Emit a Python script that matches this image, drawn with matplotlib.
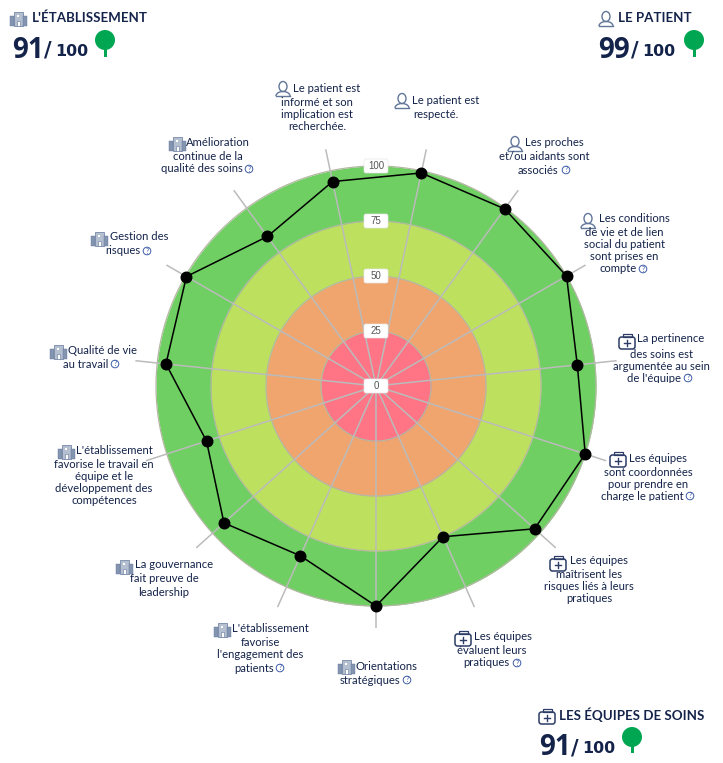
import numpy as np
import matplotlib
matplotlib.use('Agg')
import matplotlib.pyplot as plt
from matplotlib.patches import Circle, Ellipse, FancyBboxPatch, Rectangle, Arc
from matplotlib.transforms import Bbox

# Chart values, clockwise from the first spoke
scores = [99, 99.5, 100, 92, 100, 97, 75, 100, 84.5, 93, 81, 96, 99.5, 84, 95]
levels = [100, 75, 50, 25]
level_colors = ['#6fcf63', '#bde05f', '#f0a56e', '#ff7585']
tick_values = [0, 25, 50, 75, 100]

# Criteria text, one list of lines per spoke
label_lines = [
    ['Le patient est', 'respecté.'],
    ['Les proches', 'et/ou aidants sont', 'associés'],
    ['Les conditions', 'de vie et de lien', 'social du patient', 'sont prises en', 'compte'],
    ['La pertinence', 'des soins est', 'argumentée au sein', 'de l\'équipe'],
    ['Les équipes', 'sont coordonnées', 'pour prendre en', 'charge le patient'],
    ['Les équipes', 'maîtrisent les', 'risques liés à leurs', 'pratiques'],
    ['Les équipes', 'évaluent leurs', 'pratiques'],
    ['Orientations', 'stratégiques'],
    ['L\'établissement', 'favorise', 'l\'engagement des', 'patients'],
    ['La gouvernance', 'fait preuve de', 'leadership'],
    ['L\'établissement', 'favorise le travail en', 'équipe et le', 'développement des', 'compétences'],
    ['Qualité de vie', 'au travail'],
    ['Gestion des', 'risques'],
    ['Amélioration', 'continue de la', 'qualité des soins'],
    ['Le patient est', 'informé et son', 'implication est', 'recherchée.'],
]
label_icons = ['person', 'person', 'person', 'kit', 'kit', 'kit', 'kit', 'building',
               'building', 'building', 'building', 'building', 'building', 'building', 'person']

headers = ["L'ÉTABLISSEMENT", 'LE PATIENT', 'LES ÉQUIPES DE SOINS']
header_scores = ['91', '99', '91']
header_icons = ['building', 'person', 'kit']

# Layout in reference pixels: icon x, y, line centres, line middles, help x, clip y
label_layout = [
    (402, 101, [446, 436], [100, 114], None, None),
    (515, 144, [554, 544, 538], [142, 157, 170], 566, None),
    (588, 221, [634, 624, 624, 624, 618], [219, 233, 245, 257, 269], 643, None),
    (627, 341, [671, 661, 661, 654], [339, 354, 366, 378], 688, 382.5),
    (618, 459, [658, 648, 648, 642], [458, 472, 484, 496], 690, 500.5),
    (558, 563, [599, 589, 589, 589], [561, 575, 587, 599], None, 603.5),
    (463, 638, [503, 492, 486], [637, 651, 663], 517, 667.5),
    (346, 667, [386, 370], [666, 680], 407, None),
    (222, 630, [270, 260, 260, 254], [629, 643, 655, 668], 280, None),
    (124, 567, [174, 164, 164], [565, 579, 592], None, None),
    (66, 452, [114, 104, 104, 104, 104], [450, 464, 476, 489, 501], None, None),
    (58, 352, [102, 86], [350, 364], 115, None),
    (99, 239, [139, 123], [237, 251], 147, None),
    (177, 144, [218, 208, 202], [142, 157, 169], 249, None),
    (283, 89, [327, 317, 317, 317], [88, 102, 114, 126], None, None),
]
header_layout = [
    (18, 32, 18, 12, 41, 105, 40, 57),
    (606, 618, 18, 598, 628, 694, 40, 57),
    (547, 559, 715, 539, 568, 632, 737, 753),
]

NAVY = '#14234a'
ICON = '#62769a'
KIT = '#2c3c66'
W, H = 723, 763
CX, CY, R = 376, 386, 242
RMAX = 110

plt.rcParams['font.family'] = ['Lato', 'DejaVu Sans']

fig = plt.figure(figsize=(W / 100, H / 100), dpi=100)
ax = fig.add_axes([(CX - R) / W, (H - CY - R) / H, 2 * R / W, 2 * R / H], projection='polar')
ax.set_theta_zero_location('N')
ax.set_theta_direction(-1)
ax.set_ylim(0, RMAX)
ax.axis('off')

theta_fine = np.linspace(0, 2 * np.pi, 361)
for lvl, col in zip(levels, level_colors):
    ax.fill_between(theta_fine, 0, lvl, color=col, lw=0, zorder=1)
    ax.plot(theta_fine, np.full_like(theta_fine, lvl), color='#b4b8a4', lw=0.9, zorder=1.5)

n = len(scores)
angles = np.deg2rad(12 + 24 * np.arange(n))
for a in angles:
    ax.plot([a, a], [0, RMAX], color='#bbbbbb', lw=1.1, zorder=2)

ax.plot(np.append(angles, angles[0]), scores + scores[:1], color='black', lw=1.1, zorder=3)
ax.plot(angles, scores, 'o', color='black', ms=7.6, zorder=4)

# Overlay in pixel coordinates for the icons and texts around the radar
ov = fig.add_axes([0, 0, 1, 1], zorder=10)
ov.set_xlim(0, W)
ov.set_ylim(H, 0)
ov.axis('off')

fig.canvas.draw()
for v in tick_values:
    px, py = ov.transData.inverted().transform(ax.transData.transform((0, v)))
    ov.add_patch(FancyBboxPatch((px - 11, py - 6), 22, 12, boxstyle='round,pad=1,rounding_size=2',
                                fc='white', ec='#e6e6e6', lw=0.5))
    ov.text(px, py, str(v), ha='center', va='center', fontsize=7, color='#555555', family='Liberation Sans')


def draw_icon(kind, x, y):
    if kind == 'person':
        ov.add_patch(Ellipse((x, y - 2.5), 8, 10, fc='none', ec=ICON, lw=1))
        ov.add_patch(Arc((x, y + 7), 14, 9, theta1=180, theta2=360, ec=ICON, lw=1))
        ov.plot([x - 7, x + 7], [y + 7, y + 7], color=ICON, lw=1)
    elif kind == 'kit':
        ov.add_patch(FancyBboxPatch((x - 8, y - 4), 16, 12, boxstyle='round,pad=0,rounding_size=2.5',
                                    fc='none', ec=KIT, lw=1.1))
        ov.add_patch(Rectangle((x - 4.5, y - 7.5), 9, 3.5, fc='none', ec=KIT, lw=0.9))
        ov.plot([x - 3, x + 3], [y + 2, y + 2], color=KIT, lw=1)
        ov.plot([x, x], [y - 1, y + 5], color=KIT, lw=1)
    else:
        ov.add_patch(Rectangle((x - 4.5, y - 7), 9, 14, fc='#b4bfd0', ec=ICON, lw=0.5))
        ov.add_patch(Rectangle((x - 8.5, y - 3), 4, 10, fc='#8495b0', ec=ICON, lw=0.3))
        ov.add_patch(Rectangle((x + 4.5, y - 3), 4, 10, fc='#8495b0', ec=ICON, lw=0.3))
        ov.add_patch(Rectangle((x - 1.5, y + 2), 3, 5, fc='white', ec=ICON, lw=0.4))
        ov.add_patch(Rectangle((x - 1, y - 4), 2, 2, fc='white', lw=0))


for lines, kind, (ix, iy, cxs, ys, help_x, clip_y) in zip(label_lines, label_icons, label_layout):
    draw_icon(kind, ix, iy)
    for line, cx, y in zip(lines, cxs, ys):
        t = ov.text(cx, y, line, ha='center', va='center', fontsize=8.1, color=NAVY)
        if clip_y is not None:
            t.set_clip_box(Bbox([[0, H - clip_y], [W, H]]))
            t.set_clip_on(True)
    if help_x is not None:
        ov.add_patch(Circle((help_x, ys[-1]), 3.8, fc='white', ec='#3f5ca8', lw=0.7))
        ov.text(help_x, ys[-1], '?', ha='center', va='center', fontsize=5, color='#3f5ca8')

for title, score, kind, (ix, tx, ty, sx, sx2, tree_x, tree_y, tree_end) in zip(
        headers, header_scores, header_icons, header_layout):
    draw_icon(kind, ix, ty + 1)
    ov.text(tx, ty, title, ha='left', va='center', fontsize=9.6, fontweight='bold', color=NAVY)
    ov.text(sx, ty + 40, score, ha='left', va='baseline', fontsize=20, fontweight='bold',
            family='Open Sans', color=NAVY)
    ov.text(sx2 + 3, ty + 39, '/', ha='left', va='baseline', fontsize=15, fontweight='bold',
            family='DejaVu Sans', color=NAVY)
    ov.text(sx2 + 14, ty + 38, '100', ha='left', va='baseline', fontsize=11.4, fontweight='bold',
            family='DejaVu Sans', color=NAVY)
    ov.add_patch(Circle((tree_x, tree_y), 10, fc='#00a651', lw=0))
    ov.add_patch(Rectangle((tree_x - 1.5, tree_y), 3, tree_end - tree_y, fc='#00a651', lw=0))

fig.savefig('out.png', dpi=100, facecolor='white')
